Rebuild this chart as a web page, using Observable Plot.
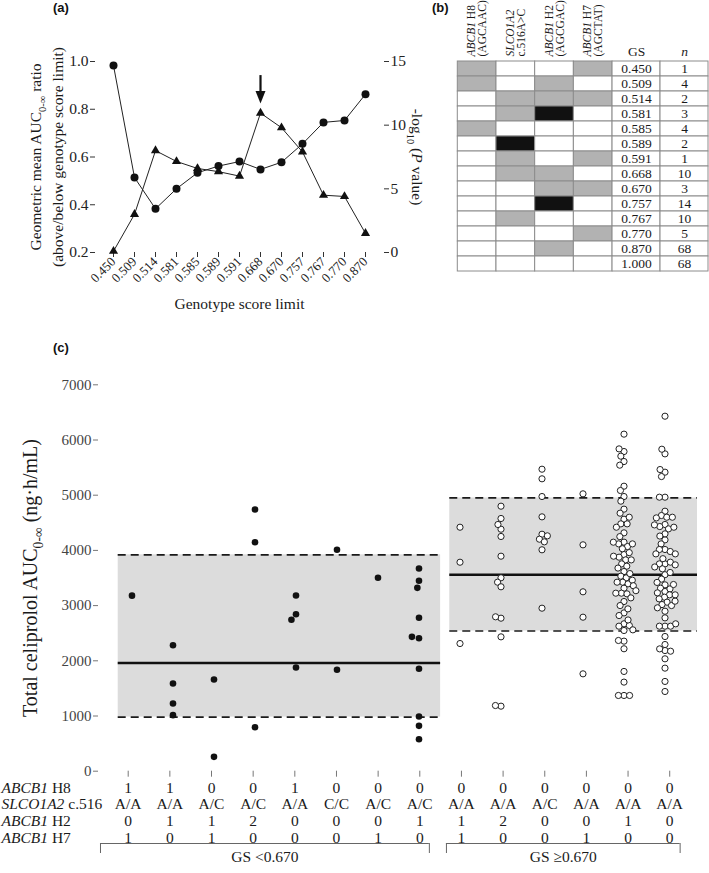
<!DOCTYPE html>
<html><head><meta charset="utf-8">
<script src="https://cdn.jsdelivr.net/npm/d3@7"></script>
<script src="https://cdn.jsdelivr.net/npm/@observablehq/plot@0.6"></script>
<style>
body{margin:0;background:#fff;}
#wrap{position:relative;width:709px;height:873px;overflow:hidden;background:#fff;}
#wrap svg text{font-family:'Liberation Serif','Times New Roman',serif !important;}
.lab{position:absolute;font:bold 13px "Liberation Sans",Arial,sans-serif;color:#111;line-height:16px;}
</style></head><body><div id="wrap"></div>
<script>
// ---------------- data: panel (a) ----------------
const gsLimits = ["0.450","0.509","0.514","0.581","0.585","0.589","0.591","0.668","0.670","0.757","0.767","0.770","0.870"];
const aucRatio = [0.983,0.514,0.383,0.467,0.534,0.562,0.581,0.548,0.578,0.655,0.745,0.753,0.863];
const negLogP  = [0.1,3.0,8.0,7.15,6.6,6.35,6.0,10.95,9.8,7.9,4.5,4.4,1.5];
const arrowAt = "0.668";

// ---------------- data: panel (b) / (c) genotype groups ----------------
const groupGS = ["0.450","0.509","0.514","0.581","0.585","0.589","0.591","0.668","0.670","0.757","0.767","0.770","0.870","1.000"];
const groupN  = [1,4,2,3,4,2,1,10,3,14,10,5,68,68];
const h8   = [1,1,0,0,1,0,0,0,0,0,0,0,0,0];
const slco = ["A/A","A/A","A/C","A/C","A/A","C/C","A/C","A/C","A/A","A/A","A/C","A/A","A/A","A/A"];
const h2   = [0,1,1,2,0,0,0,1,1,2,0,0,1,0];
const h7   = [1,0,1,0,0,0,1,0,1,0,0,1,0,0];
const headers = [
  {l1:"*ABCB1* H8", l2:"(AGCAAC)"},
  {l1:"*SLCO1A2*",  l2:"c.516A>C"},
  {l1:"*ABCB1* H2", l2:"(AGCGAC)"},
  {l1:"*ABCB1* H7", l2:"(AGCTAT)"}
];
const rowLabels = ["*ABCB1* H8","*SLCO1A2* c.516","*ABCB1* H2","*ABCB1* H7"];

// ---------------- data: panel (c) AUC values per group ----------------
const aucValues = [
  [3180],
  [2283,1589,1226,1015],
  [1661,260],
  [4741,4149,797],
  [3183,2844,2743,1879],
  [4011,1837],
  [3504],
  [3672,3449,3322,2779,2409,2434,1855,991,822,580],
  [4420,3786,2313],
  [4801,4578,4384,4469,4252,3895,3504,3424,3341,2772,2797,2434,1178,1190],
  [5471,5297,4976,4608,4293,4203,4155,4264,4011,2953],
  [5025,4101,3250,2790,1764],
  [6106,5791,5839,5707,5610,5544,5163,5085,4976,4892,4747,4674,4565,4481,4481,4601,4318,
   4149,4118,4070,4118,4149,3925,3877,3828,3828,3895,3756,3714,3617,3533,3503,3424,3394,3424,
   3315,3225,3213,3225,3074,3001,2868,2820,2941,2670,2627,2549,2640,2561,2356,2218,2368,1807,
   1614,1372,1372,1372,4420,4250,4030,3960,3680,3580,3460,3360,3140,3270,2740],
  [6431,5749,5833,5417,5338,5465,4964,4964,4710,4632,4601,4601,4589,4469,4432,4390,4420,4462,
   4191,4118,4016,4016,3980,3937,3937,3756,3756,3787,3738,3666,3376,3315,3255,3303,3382,3231,
   3195,3152,3122,3195,3062,3019,3001,2898,2778,2627,2627,2627,2670,2440,2295,2186,2216,2174,
   2036,1867,1626,1444,3850,3700,3560,3600,3480,3420,4300,4260,3080,2960]
];
const bandLabels = ["GS <0.670","GS \u22650.670"];
const bandFirst  = [1, 9];
const bandLast   = [8, 14];
const bandMean   = [1960, 3560];
const bandLow    = [980, 2540];
const bandHigh   = [3920, 4950];

// ---------------- helpers ----------------
const NS = "http://www.w3.org/2000/svg";
function rich(root){
  root.querySelectorAll("text").forEach(t=>{
    const s = t.textContent;
    if (!/\*|_\{/.test(s)) return;
    const fs = parseFloat(getComputedStyle(t).fontSize) || 15;
    const parts = s.split(/(\*[^*]+\*|_\{[^}]+\})/).filter(p=>p);
    while (t.firstChild) t.removeChild(t.firstChild);
    let shift = 0;
    for (const p of parts){
      const ts = document.createElementNS(NS,"tspan");
      if (p.startsWith("_{")){
        ts.textContent = p.slice(2,-1);
        ts.setAttribute("font-size",(fs*0.68).toFixed(1));
        shift = fs*0.28; ts.setAttribute("dy",shift.toFixed(1));
      } else {
        if (p[0]==="*"){ ts.textContent=p.slice(1,-1); ts.setAttribute("font-style","italic"); }
        else ts.textContent=p;
        if (shift){ ts.setAttribute("dy",(-shift).toFixed(1)); shift=0; }
      }
      t.appendChild(ts);
    }
  });
}
const wrap = document.getElementById("wrap");
function place(node, left, top, w, h){
  const d = document.createElement("div");
  d.style.cssText = `position:absolute;left:${left}px;top:${top}px;width:${w}px;height:${h}px;`;
  d.appendChild(node); wrap.appendChild(d); rich(node);
}
function label(txt, left, top){
  const d = document.createElement("div"); d.className="lab";
  d.style.left=left+"px"; d.style.top=top+"px"; d.textContent=txt; wrap.appendChild(d);
}
const serif = "'Liberation Serif','Times New Roman',serif";
const baseStyle = {fontFamily: serif, background:"transparent", overflow:"visible", maxWidth:"none", color:"#1a1a1a"};
const T = {textAnchor:"middle", lineAnchor:"middle", fill:"#1a1a1a"};

// ---------------- panel (a) ----------------
const pToY = p => 0.2 + p*0.8/15;
const aRows = gsLimits.map((gs,i)=>({gs, ratio: aucRatio[i], py: pToY(negLogP[i])}));
const arrowRow = aRows.find(d=>d.gs===arrowAt);
const downTri = {draw(ctx, size){ const s=Math.sqrt(size); const w=0.72*s, h=0.9*s; ctx.moveTo(-w,-h); ctx.lineTo(w,-h); ctx.lineTo(0,h); ctx.closePath(); }};

const plotA = Plot.plot({
  width: 440, height: 310, marginLeft: 95, marginRight: 57, marginTop: 61, marginBottom: 58,
  x: {type:"point", domain: gsLimits, padding: 0.7},
  y: {domain: [0.2, 1.0]},
  style: baseStyle,
  marks: [
    Plot.axisY({anchor:"left", ticks:[0.2,0.4,0.6,0.8,1.0], tickFormat:".1f", tickSize:5, tickPadding:2, line:true, label:null, fontSize:15.5, stroke:"#333", fill:"#222"}),
    Plot.axisY({anchor:"right", ticks:[0,5,10,15].map(pToY), tickFormat: d=>String(Math.round((d-0.2)*15/0.8)), tickSize:5, tickPadding:2, line:true, label:null, fontSize:15.5, stroke:"#333", fill:"#222"}),
    Plot.axisX({tickRotate:-45, tickSize:5, tickPadding:2, line:true, label:null, fontSize:13, stroke:"#333", fill:"#222"}),
    Plot.line(aRows, {x:"gs", y:"ratio", stroke:"#222", strokeWidth:1}),
    Plot.line(aRows, {x:"gs", y:"py", stroke:"#222", strokeWidth:1}),
    Plot.dot(aRows, {x:"gs", y:"ratio", r:4, fill:"#111"}),
    Plot.dot(aRows, {x:"gs", y:"py", symbol:"triangle", r:3.4, fill:"#111"}),
    Plot.ruleX([arrowRow], {x:"gs", y1: d=>d.py+0.157, y2: d=>d.py+0.085, stroke:"#111", strokeWidth:2.2}),
    Plot.dot([arrowRow], {x:"gs", y: d=>d.py+0.066, symbol: downTri, r:3.9, fill:"#111"}),
    Plot.text(["Genotype score limit"], {...T, frameAnchor:"bottom", dy:52, fontSize:15.5}),
    Plot.text(["Geometric mean AUC_{0-\u221E} ratio"], {...T, frameAnchor:"left", dx:-59, rotate:-90, fontSize:15.5}),
    Plot.text(["(above/below genotype score limit)"], {...T, frameAnchor:"left", dx:-37, rotate:-90, fontSize:15.5}),
    Plot.text(["-log_{10} (*P* value)"], {...T, frameAnchor:"right", dx:33, rotate:90, fontSize:15.5})
  ]
});
place(plotA, 0, 0, 440, 310);

// ---------------- panel (b) table ----------------
const colW = [1,1,1,1,1.24,1.24];
const edges = [0]; colW.forEach(w=>edges.push(edges[edges.length-1]+w));
const slcoCount = s => (s.match(/C/g)||[]).length;
const cells = [];
groupGS.forEach((gs,i)=>{
  [h8[i], slcoCount(slco[i]), h2[i], h7[i], -1, -1].forEach((v,c)=>cells.push({gs, c, v}));
});
const mid = c => (edges[c]+edges[c+1])/2;
const plotB = Plot.plot({
  width: 269, height: 280, marginLeft: 17.3, marginRight: 1, marginTop: 60, marginBottom: 8,
  x: {domain:[0, edges[6]], axis:null},
  y: {type:"band", domain: groupGS, padding:0, axis:null},
  color: {type:"identity"},
  style: baseStyle,
  marks: [
    Plot.barX(cells, {x1: d=>edges[d.c], x2: d=>edges[d.c+1], y:"gs",
      fill: d=> d.v===2 ? "#111" : d.v===1 ? "#b2b2b2" : "#fff", stroke:"#8c8c8c", strokeWidth:1}),
    Plot.text(groupGS, {...T, x: mid(4), y: d=>d, text: d=>d, fontSize:13.5}),
    Plot.text(groupGS, {...T, x: mid(5), y: d=>d, text: (d,i)=>String(groupN[i]), fontSize:13.5}),
    Plot.text(["GS"], {...T, x: mid(4), frameAnchor:"top", dy:-9, text:d=>d, fontSize:13.5}),
    Plot.text(["*n*"], {...T, x: mid(5), frameAnchor:"top", dy:-9, text:d=>d, fontSize:13.5}),
    Plot.text(headers, {...T, x: (d,i)=>mid(i), text:"l1", frameAnchor:"top", rotate:-90, textAnchor:"start", dx:-5.5, dy:-4, fontSize:11.5}),
    Plot.text(headers, {...T, x: (d,i)=>mid(i), text:"l2", frameAnchor:"top", rotate:-90, textAnchor:"start", dx:5.5, dy:-4, fontSize:11.5})
  ]
});
place(plotB, 440, 0, 269, 280);

// ---------------- panel (c) ----------------
const xDomC = [0.287, 14.667];
const groupIdx = d3.range(1, 15);
const bands = bandLabels.map((lab,i)=>({lab, first: bandFirst[i], last: bandLast[i], mean: bandMean[i], low: bandLow[i], high: bandHigh[i], i}));
const shadeL = [0.24, 0.28], shadeR = [0.5, 0.667];
const sx1 = d => d.first - shadeL[d.i], sx2 = d => d.last + shadeR[d.i];
const plotC = Plot.plot({
  width: 709, height: 513, marginLeft: 98, marginRight: 12, marginTop: 24.3, marginBottom: 102.3,
  x: {domain: xDomC},
  y: {domain: [0, 7000]},
  style: baseStyle,
  marks: [
    Plot.rect(bands, {x1: sx1, x2: sx2, y1:"low", y2:"high", fill:"#dcdcdc"}),
    Plot.ruleY(bands, {y:"high", x1: sx1, x2: sx2, stroke:"#1a1a1a", strokeWidth:1.7, strokeDasharray:"8,5"}),
    Plot.ruleY(bands, {y:"low", x1: sx1, x2: sx2, stroke:"#1a1a1a", strokeWidth:1.7, strokeDasharray:"8,5"}),
    Plot.ruleY(bands, {y:"mean", x1: sx1, x2: sx2, stroke:"#111", strokeWidth:2.6}),
    Plot.axisY({ticks: d3.range(0, 7001, 1000), tickFormat:"d", tickSize:5, tickPadding:2, line:true, label:null, fontSize:15, stroke:"#777", fill:"#444"}),
    Plot.axisX({ticks: groupIdx, tickFormat: ()=>"", tickSize:6, line:true, label:null, stroke:"#777"}),
    Plot.text(["Total celiprolol AUC_{0-\u221E} (ng\u00B7h/mL)"], {...T, frameAnchor:"left", dx:-68, rotate:-90, fontSize:20})
  ]
});
place(plotC, 0, 360, 709, 513);

// dots, beeswarm per group (facets aligned with the x scale above)
const pts = [];
aucValues.forEach((arr,gi)=>arr.forEach(v=>pts.push({g: gi+1, v})));
const plotD = Plot.plot({
  width: 709, height: 513, marginLeft: 106.9, marginRight: 19, marginTop: 24.3, marginBottom: 102.3,
  facet: {data: pts, x: "g"},
  fx: {domain: groupIdx, padding: 0, axis: null},
  y: {domain: [0, 7000], axis: null},
  style: baseStyle,
  marks: [
    Plot.dot(pts, Plot.dodgeX({anchor:"middle", padding:0.6}, {filter: d=>d.g<=8, y:"v", r:3.3, fill:"#111"})),
    Plot.dot(pts, Plot.dodgeX({anchor:"middle", padding:-0.6}, {filter: d=>d.g>8, y:"v", r:3.1, fill:"#fff", stroke:"#222", strokeWidth:1}))
  ]
});
place(plotD, 0, 360, 709, 513);

// footer: genotype rows and GS brackets
const rowVals = [h8.map(String), slco, h2.map(String), h7.map(String)];
const rowDy = [-55.7, -39, -22.3, -5.6];
const brL = [0.665, 0.36], brR = [0.23, 0.25];
const bx1 = d => d.first - brL[d.i], bx2 = d => d.last + brR[d.i];
const plotF = Plot.plot({
  width: 709, height: 100, marginLeft: 98, marginRight: 12, marginTop: 70, marginBottom: 20,
  x: {domain: xDomC, axis: null},
  y: {domain: [0, 1], axis: null},
  style: baseStyle,
  marks: [
    ...rowVals.map((vals,k)=>Plot.text(groupIdx, {...T, x: d=>d, text: d=>vals[d-1], frameAnchor:"top", dy: rowDy[k], fontSize:15.5})),
    ...rowLabels.map((lab,k)=>Plot.text([lab], {...T, frameAnchor:"top-left", dx:-97, dy: rowDy[k], textAnchor:"start", text:d=>d, fontSize:15.5})),
    Plot.ruleY(bands, {y: 1, x1: bx1, x2: bx2, stroke:"#666", strokeWidth:1}),
    Plot.ruleX(bands.flatMap(d=>[bx1(d), bx2(d)]), {x: d=>d, y1: 0, y2: 1, stroke:"#666", strokeWidth:1}),
    Plot.text(bands, {...T, x: d=>(bx1(d)+bx2(d))/2, y: 1, dy: 13.7, text:"lab", fontSize:15.5})
  ]
});
place(plotF, 0, 773, 709, 100);

label("(a)", 53, 0);
label("(b)", 432, 0);
label("(c)", 53, 340);
</script></body></html>
